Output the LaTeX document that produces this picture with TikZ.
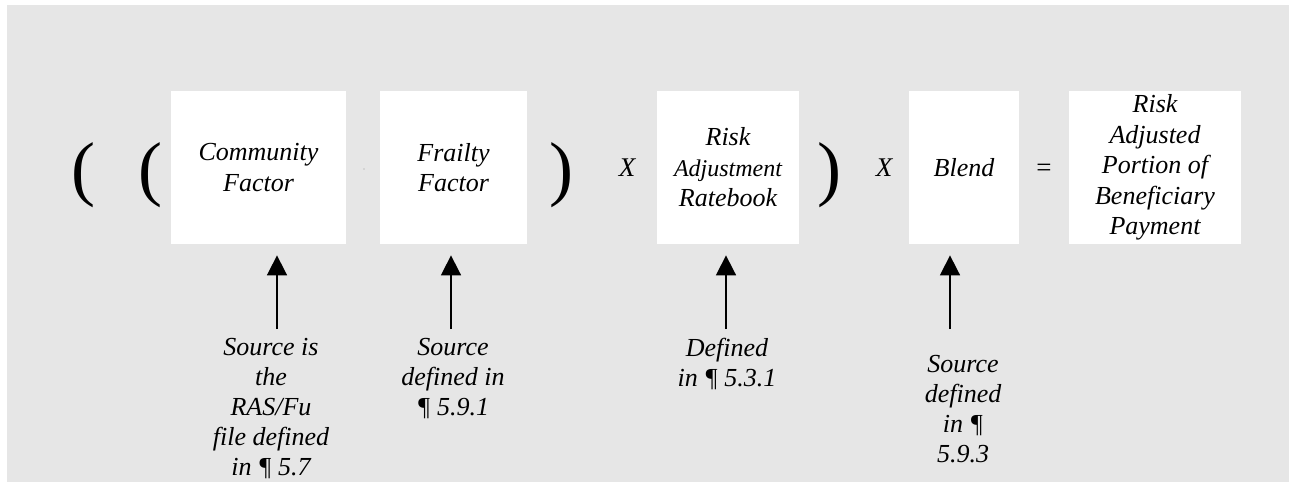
\documentclass[tikz,border=0pt]{standalone}
\usepackage{fontspec}
\setmainfont{Liberation Serif}
\usetikzlibrary{arrows.meta, positioning}
\definecolor{CPanel}{HTML}{E6E6E6}
\definecolor{CDot}{HTML}{9A9A9A}

\tikzset{
    factor/.style={fill=white, minimum height=76.5pt, inner sep=0pt, align=center,
        font=\itshape\fontsize{13}{15.3}\selectfont},
    opsign/.style={inner sep=0pt, font=\itshape\fontsize{13.5}{15}\selectfont},
    paren/.style={inner sep=0pt, font=\fontsize{36}{36}\selectfont},
    srcnote/.style={inner sep=0pt, align=center, font=\itshape\fontsize{13}{15}\selectfont},
    srcarrow/.style={-{Triangle[length=10pt, width=10pt]}, line width=0.85pt, shorten >=5.5pt}
}

\begin{document}
\begin{tikzpicture}[x=0.5pt, y=-0.5pt]
    \useasboundingbox (0,0) rectangle (1289,482);

    % Panel
    \fill[CPanel] (7,5) rectangle (1289,482);

    % Factor boxes
    \node[factor, minimum width=87.5pt] (comm) at (258.5,167.5) {Community\\Factor};
    \node[factor, minimum width=73.5pt] (frail) at (453.5,167.5) {Frailty\\Factor};
    \node[factor, minimum width=71pt] (rate) at (728,167.5)
        {Risk\\{\fontsize{12}{15.3}\selectfont Adjustment}\\Ratebook};
    \node[factor, minimum width=55pt] (blend) at (964,167.5) {Blend};
    \node[factor, minimum width=86pt, font=\itshape\fontsize{13}{15.2}\selectfont] (result) at (1155,167.5)
        {Risk\\Adjusted\\Portion of\\Beneficiary\\Payment};

    % Brackets and operators
    \node[paren] (lpouter) at (83,175.5) {(};
    \node[paren] (lpinner) at (150,175.5) {(};
    \node[paren] (rpinner) at (561,175.5) {)};
    \node[paren] (rpouter) at (829,175.5) {)};
    \node[opsign] (times1) at (627,168) {X};
    \node[opsign] (times2) at (884,168) {X};
    \node[opsign, font=\fontsize{13.5}{15}\selectfont] (equals) at (1044,170) {=};
    \fill[CDot] (364,169) circle (0.35pt); % stray dot between the first two boxes

    % Source notes
    \node[srcnote] (commnote) at (271,409) {Source is\\the\\RAS/Fu\\file defined\\in ¶ 5.7};
    \node[srcnote] (frailnote) at (453,379) {Source\\defined in\\¶ 5.9.1};
    \node[srcnote] (ratenote) at (727,364) {Defined\\in ¶ 5.3.1};
    \node[srcnote] (blendnote) at (963,409) {Source\\defined\\in ¶\\5.9.3};

    % Arrows up to the boxes
    \coordinate (commtail) at (277,329);
    \coordinate (frailtail) at (451,329);
    \coordinate (ratetail) at (726,329);
    \coordinate (blendtail) at (950,329);
    \draw[srcarrow] (commtail) -- (commtail |- comm.south);
    \draw[srcarrow] (frailtail) -- (frailtail |- frail.south);
    \draw[srcarrow] (ratetail) -- (ratetail |- rate.south);
    \draw[srcarrow] (blendtail) -- (blendtail |- blend.south);

\end{tikzpicture}
\end{document}
